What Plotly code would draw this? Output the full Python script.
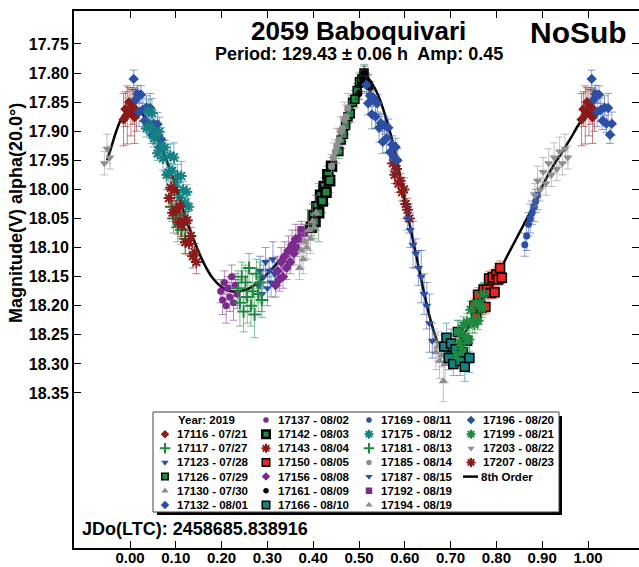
import plotly.graph_objects as go

# ---------------- data (phase, magnitude, error) ----------------
p17116 = [-0.014, -0.010, -0.006, -0.002, 0.002, 0.006, 0.010, 0.014, 0.986, 0.990, 0.994, 0.998, 1.002, 1.006, 1.010, 1.014]
m17116 = [17.880, 17.862, 17.872, 17.850, 17.868, 17.858, 17.876, 17.865, 17.880, 17.862, 17.872, 17.850, 17.868, 17.858, 17.876, 17.865]
e17116 = [0.045, 0.030, 0.050, 0.025, 0.040, 0.030, 0.045, 0.035, 0.045, 0.030, 0.050, 0.025, 0.040, 0.030, 0.045, 0.035]

p17117 = [0.090, 0.095, 0.100, 0.104, 0.108, 0.112, 0.116, 0.120]
m17117 = [18.030, 18.050, 18.040, 18.065, 18.045, 18.070, 18.060, 18.085]
e17117 = [0.020, 0.025, 0.020, 0.025, 0.020, 0.025, 0.020, 0.025]

p17123 = [0.280, 0.284, 0.288, 0.292, 0.296, 0.300, 0.304, 0.308, 0.312, 0.316]
m17123 = [18.165, 18.140, 18.180, 18.150, 18.125, 18.170, 18.140, 18.160, 18.120, 18.145]
e17123 = [0.020, 0.025, 0.030, 0.020, 0.025, 0.030, 0.020, 0.025, 0.030, 0.020]

p17126 = [0.456, 0.461, 0.466, 0.471, 0.476, 0.481, 0.486, 0.491, 0.496, 0.501, 0.506, 0.511]
m17126 = [17.935, 17.915, 17.905, 17.890, 17.875, 17.870, 17.850, 17.845, 17.830, 17.815, 17.810, 17.800]
e17126 = [0.012, 0.015, 0.012, 0.015, 0.012, 0.015, 0.012, 0.015, 0.012, 0.015, 0.012, 0.015]

p17130 = [0.664, 0.668, 0.672, 0.676, 0.680, 0.684, 0.688]
m17130 = [18.260, 18.280, 18.270, 18.295, 18.285, 18.330, 18.300]
e17130 = [0.020, 0.030, 0.025, 0.030, 0.020, 0.035, 0.030]

p17132 = [0.008, 0.012, 0.016, 0.020, 0.024, 0.028, 0.032, 0.036, 0.040, 0.044, 0.048, 0.052, 0.056, 0.060,
          0.064, 0.068, 0.072,
          1.008, 1.012, 1.016, 1.020, 1.024, 1.028, 1.032, 1.036, 1.040, 1.044, 1.048, 1.052]
m17132 = [17.810, 17.846, 17.836, 17.867, 17.837, 17.863, 17.882, 17.859, 17.887, 17.860, 17.906, 17.887, 17.907,
          17.888, 17.928, 17.914, 17.930,
          17.810, 17.846, 17.836, 17.867, 17.837, 17.863, 17.882, 17.859, 17.887, 17.860, 17.906, 17.887]
e17132 = [0.015, 0.020, 0.015, 0.025, 0.015, 0.020, 0.015, 0.020, 0.015, 0.025, 0.015, 0.020, 0.015, 0.020,
          0.015, 0.020, 0.015,
          0.015, 0.020, 0.015, 0.025, 0.015, 0.020, 0.015, 0.020, 0.015, 0.025, 0.015, 0.020]

p17137 = [0.198, 0.202, 0.206, 0.210, 0.214, 0.218, 0.222, 0.226, 0.230, 0.234]
m17137 = [18.175, 18.190, 18.160, 18.200, 18.170, 18.185, 18.150, 18.195, 18.165, 18.180]
e17137 = [0.020, 0.025, 0.020, 0.030, 0.020, 0.025, 0.020, 0.030, 0.020, 0.025]

p17142 = [0.396, 0.400, 0.404, 0.408, 0.412, 0.416, 0.420, 0.424, 0.428, 0.432, 0.436, 0.440]
m17142 = [18.065, 18.045, 18.055, 18.030, 18.040, 18.010, 18.020, 17.995, 18.005, 17.975, 17.985, 17.960]
e17142 = [0.015, 0.020, 0.015, 0.020, 0.050, 0.015, 0.020, 0.015, 0.020, 0.015, 0.020, 0.015]

p17143 = [0.574, 0.578, 0.582, 0.586, 0.590, 0.594, 0.598, 0.602, 0.606, 0.610]
m17143 = [17.955, 17.975, 17.965, 17.990, 17.985, 18.005, 18.000, 18.025, 18.035, 18.050]
e17143 = [0.012, 0.015, 0.012, 0.015, 0.012, 0.015, 0.020, 0.025, 0.020, 0.025]

p17150 = [0.752, 0.756, 0.760, 0.764, 0.768, 0.772, 0.776, 0.780, 0.784, 0.788, 0.792, 0.796, 0.800, 0.804,
          0.808, 0.812]
m17150 = [18.200, 18.220, 18.181, 18.201, 18.203, 18.172, 18.202, 18.172, 18.153, 18.178, 18.151, 18.177, 18.146,
          18.155, 18.135, 18.152]
e17150 = [0.012, 0.010, 0.012, 0.010, 0.012, 0.010, 0.012, 0.010, 0.012, 0.010, 0.012, 0.010, 0.012, 0.010,
          0.012, 0.010]

p17156 = [0.318, 0.322, 0.326, 0.330, 0.334, 0.338, 0.342, 0.346, 0.350, 0.354, 0.358, 0.362]
m17156 = [18.165, 18.140, 18.155, 18.125, 18.150, 18.115, 18.135, 18.105, 18.125, 18.095, 18.110, 18.085]
e17156 = [0.020, 0.025, 0.020, 0.025, 0.020, 0.025, 0.020, 0.025, 0.020, 0.025, 0.020, 0.025]

p17161 = [0.500, 0.504, 0.508, 0.512, 0.516, 0.520, 0.524, 0.528]
m17161 = [17.835, 17.820, 17.810, 17.800, 17.810, 17.815, 17.825, 17.840]
e17161 = [0.010, 0.012, 0.010, 0.012, 0.010, 0.012, 0.010, 0.012]

p17166 = [0.686, 0.691, 0.696, 0.701, 0.706, 0.711, 0.716, 0.721, 0.726, 0.731, 0.736, 0.741]
m17166 = [18.270, 18.255, 18.290, 18.265, 18.300, 18.275, 18.245, 18.295, 18.280, 18.305, 18.260, 18.290]
e17166 = [0.020, 0.025, 0.020, 0.025, 0.020, 0.025, 0.020, 0.025, 0.020, 0.025, 0.020, 0.025]

p17169 = [0.862, 0.866, 0.870, 0.874, 0.878, 0.882, 0.886, 0.890]
m17169 = [18.095, 18.080, 18.060, 18.050, 18.040, 18.030, 18.020, 18.010]
e17169 = [0.020, 0.025, 0.020, 0.025, 0.020, 0.025, 0.020, 0.025]

p17175 = [0.036, 0.040, 0.044, 0.048, 0.052, 0.056, 0.060, 0.064, 0.068, 0.072, 0.076, 0.080, 0.084, 0.088,
          0.092, 0.096, 0.100, 0.104, 0.108, 0.112, 0.116, 0.120, 0.124, 0.128]
m17175 = [17.895, 17.866, 17.893, 17.869, 17.912, 17.902, 17.938, 17.901, 17.926, 17.947, 17.928, 17.975, 17.971,
          17.942, 17.968, 17.945, 17.988, 17.977, 18.014, 17.977, 18.001, 18.023, 18.004, 18.030]
e17175 = [0.015, 0.020, 0.012, 0.025, 0.015, 0.020, 0.012, 0.025, 0.015, 0.020, 0.012, 0.025, 0.015, 0.020,
          0.012, 0.025, 0.015, 0.020, 0.012, 0.025, 0.015, 0.020, 0.012, 0.025]

p17181 = [0.236, 0.240, 0.244, 0.248, 0.252, 0.256, 0.260, 0.264, 0.268, 0.272, 0.276, 0.280, 0.284, 0.288]
m17181 = [18.170, 18.195, 18.150, 18.210, 18.160, 18.185, 18.135, 18.200, 18.175, 18.215, 18.145, 18.180, 18.160,
          18.190]
e17181 = [0.030, 0.040, 0.025, 0.035, 0.030, 0.045, 0.025, 0.035, 0.030, 0.040, 0.025, 0.030, 0.035, 0.030]

p17185 = [0.440, 0.444, 0.448, 0.452, 0.456, 0.460, 0.464, 0.468, 0.472, 0.476]
m17185 = [17.960, 17.945, 17.935, 17.925, 17.915, 17.900, 17.895, 17.880, 17.875, 17.860]
e17185 = [0.020, 0.025, 0.020, 0.030, 0.020, 0.025, 0.020, 0.030, 0.020, 0.025]

p17187 = [0.606, 0.612, 0.618, 0.624, 0.630, 0.636, 0.642, 0.648, 0.654, 0.660]
m17187 = [18.050, 18.070, 18.095, 18.110, 18.135, 18.150, 18.180, 18.200, 18.230, 18.260]
e17187 = [0.020, 0.030, 0.040, 0.025, 0.030, 0.045, 0.035, 0.040, 0.050, 0.030]

p17192 = [0.362, 0.368, 0.374, 0.380]
m17192 = [18.100, 18.085, 18.070, 18.075]
e17192 = [0.015, 0.015, 0.015, 0.015]

p17194 = [0.370, 0.374, 0.378, 0.382, 0.386, 0.390, 0.394, 0.398, 0.402, 0.406]
m17194 = [18.135, 18.105, 18.120, 18.090, 18.100, 18.070, 18.085, 18.055, 18.065, 18.040]
e17194 = [0.020, 0.030, 0.025, 0.030, 0.020, 0.035, 0.025, 0.030, 0.020, 0.030]

p17196 = [0.516, 0.520, 0.524, 0.528, 0.532, 0.536, 0.540, 0.544, 0.548, 0.552, 0.556, 0.560, 0.564, 0.568,
          0.572, 0.576, 0.580, 0.584]
m17196 = [17.820, 17.852, 17.839, 17.871, 17.843, 17.875, 17.852, 17.894, 17.886, 17.918, 17.890, 17.912, 17.894,
          17.936, 17.923, 17.945, 17.927, 17.950]
e17196 = [0.015, 0.020, 0.015, 0.025, 0.015, 0.020, 0.015, 0.025, 0.015, 0.020, 0.015, 0.025, 0.015, 0.020,
          0.015, 0.025, 0.015, 0.020]

p17199 = [0.712, 0.716, 0.720, 0.724, 0.728, 0.732, 0.736, 0.740, 0.744, 0.748, 0.752, 0.756, 0.760, 0.764,
          0.768, 0.772]
m17199 = [18.285, 18.245, 18.264, 18.274, 18.234, 18.253, 18.228, 18.258, 18.207, 18.227, 18.232, 18.196, 18.226,
          18.196, 18.205, 18.180]
e17199 = [0.015, 0.020, 0.015, 0.020, 0.015, 0.020, 0.015, 0.020, 0.015, 0.020, 0.015, 0.020, 0.015, 0.020,
          0.015, 0.020]

p17203 = [0.884, 0.890, 0.896, 0.902, 0.908, 0.914, 0.920, 0.926, 0.932, 0.938, 0.944, 0.950, 0.956,
          -0.056, -0.050, -0.044]
m17203 = [18.010, 17.985, 18.000, 17.970, 17.990, 17.955, 17.975, 17.945, 17.965, 17.935, 17.955, 17.930, 17.945,
          17.955, 17.930, 17.945]
e17203 = [0.020, 0.025, 0.020, 0.025, 0.020, 0.025, 0.020, 0.025, 0.020, 0.025, 0.020, 0.025, 0.020,
          0.020, 0.025, 0.020]

p17207 = [0.085, 0.089, 0.093, 0.097, 0.101, 0.105, 0.109, 0.113, 0.117, 0.121, 0.125, 0.129, 0.133, 0.137,
          0.141, 0.145]
m17207 = [18.015, 17.997, 18.040, 18.002, 18.034, 18.057, 18.029, 18.061, 18.054, 18.091, 18.053, 18.093, 18.080,
          18.115, 18.108, 18.125]
e17207 = [0.015, 0.020, 0.015, 0.020, 0.015, 0.020, 0.015, 0.020, 0.015, 0.020, 0.015, 0.020, 0.015, 0.020,
          0.015, 0.020]

# 8th order Fourier fit
fit_phase = [-0.05, -0.04, -0.03, -0.02, -0.01, 0.00, 0.01, 0.02, 0.04, 0.06, 0.08, 0.10, 0.12, 0.14, 0.16,
             0.18, 0.20, 0.22, 0.24, 0.26, 0.28, 0.30, 0.32, 0.34, 0.36, 0.38, 0.40, 0.42, 0.44, 0.46, 0.48,
             0.50, 0.51, 0.52, 0.54, 0.56, 0.58, 0.60, 0.62, 0.64, 0.66, 0.68, 0.70, 0.72, 0.74, 0.76, 0.78,
             0.80, 0.82, 0.84, 0.86, 0.88, 0.90, 0.92, 0.94, 0.96, 0.98, 1.00]
fit_mag = [17.950, 17.925, 17.900, 17.880, 17.868, 17.862, 17.862, 17.866, 17.882, 17.910, 17.950, 17.995,
           18.045, 18.088, 18.125, 18.152, 18.168, 18.175, 18.175, 18.170, 18.160, 18.145, 18.128, 18.108,
           18.088, 18.068, 18.045, 18.013, 17.965, 17.915, 17.870, 17.830, 17.810, 17.810, 17.835, 17.880,
           17.940, 18.020, 18.095, 18.170, 18.235, 18.275, 18.278, 18.260, 18.235, 18.205, 18.178, 18.155,
           18.120, 18.090, 18.060, 18.030, 17.995, 17.965, 17.940, 17.915, 17.888, 17.865]

x_ticks = [0.0, 0.1, 0.2, 0.3, 0.4, 0.5, 0.6, 0.7, 0.8, 0.9, 1.0]
x_ticklabels = ["0.00", "0.10", "0.20", "0.30", "0.40", "0.50", "0.60", "0.70", "0.80", "0.90", "1.00"]
y_ticks = [17.75, 17.80, 17.85, 17.90, 17.95, 18.00, 18.05, 18.10, 18.15, 18.20, 18.25, 18.30, 18.35]
y_ticklabels = ["17.75", "17.80", "17.85", "17.90", "17.95", "18.00", "18.05", "18.10", "18.15", "18.20",
                "18.25", "18.30", "18.35"]

# ---------------- styles ----------------
DRED, GREEN, BLUE, GRAY = "#8b1a1a", "#1f8a3f", "#2c4ea3", "#8e8e8e"
PURPLE, BLACK, RED, TEAL = "#7b2b8d", "#000000", "#ee2222", "#148282"

def mk(symbol, color, size=8, lc=None, lw=0):
    return dict(symbol=symbol, color=color, size=size,
                line=dict(color=lc if lc else color, width=lw))

sessions = [
    ("17116 - 07/21", p17116, m17116, e17116, DRED, mk("diamond", DRED)),
    ("17117 - 07/27", p17117, m17117, e17117, GREEN, mk("cross-thin", GREEN, 9, GREEN, 2)),
    ("17123 - 07/28", p17123, m17123, e17123, BLUE, mk("triangle-down", BLUE)),
    ("17126 - 07/29", p17126, m17126, e17126, GREEN, mk("square", GREEN, 8, BLACK, 1.5)),
    ("17130 - 07/30", p17130, m17130, e17130, GRAY, mk("triangle-up", GRAY)),
    ("17132 - 08/01", p17132, m17132, e17132, BLUE, mk("diamond", BLUE)),
    ("17137 - 08/02", p17137, m17137, e17137, PURPLE, mk("circle", PURPLE, 7)),
    ("17142 - 08/03", p17142, m17142, e17142, GREEN, mk("square", GREEN, 9, BLACK, 2.5)),
    ("17143 - 08/04", p17143, m17143, e17143, DRED, mk("asterisk", DRED, 9, DRED, 2)),
    ("17150 - 08/05", p17150, m17150, e17150, RED, mk("square", RED, 9, BLACK, 1.5)),
    ("17156 - 08/08", p17156, m17156, e17156, PURPLE, mk("diamond", PURPLE)),
    ("17161 - 08/09", p17161, m17161, e17161, BLACK, mk("circle", BLACK, 7)),
    ("17166 - 08/10", p17166, m17166, e17166, TEAL, mk("square", TEAL, 9, BLACK, 1.5)),
    ("17169 - 08/11", p17169, m17169, e17169, BLUE, mk("circle", BLUE, 7)),
    ("17175 - 08/12", p17175, m17175, e17175, TEAL, mk("asterisk", TEAL, 9, TEAL, 2)),
    ("17181 - 08/13", p17181, m17181, e17181, GREEN, mk("cross-thin", GREEN, 9, GREEN, 2)),
    ("17185 - 08/14", p17185, m17185, e17185, GRAY, mk("circle", GRAY, 7)),
    ("17187 - 08/15", p17187, m17187, e17187, BLUE, mk("triangle-down", BLUE)),
    ("17192 - 08/19", p17192, m17192, e17192, PURPLE, mk("square", PURPLE, 8)),
    ("17194 - 08/19", p17194, m17194, e17194, GRAY, mk("triangle-up", GRAY)),
    ("17196 - 08/20", p17196, m17196, e17196, BLUE, mk("diamond", BLUE)),
    ("17199 - 08/21", p17199, m17199, e17199, GREEN, mk("asterisk", GREEN, 9, GREEN, 2)),
    ("17203 - 08/22", p17203, m17203, e17203, GRAY, mk("triangle-down", GRAY)),
    ("17207 - 08/23", p17207, m17207, e17207, DRED, mk("asterisk", DRED, 9, DRED, 2)),
]

def rgba(hexc, a):
    h = hexc.lstrip("#")
    return "rgba(%d,%d,%d,%.2f)" % (int(h[0:2], 16), int(h[2:4], 16), int(h[4:6], 16), a)

# ---------------- geometry (pixels) ----------------
W, H = 639, 567
L, R, T, B = 74, 639, 11, 548

def px(x):
    return (x - L) / (R - L)

def py(y):
    return (B - y) / (B - T)

FONT = "Liberation Sans, Arial, sans-serif"

fig = go.Figure()

# fit curve (below data)
fig.add_trace(go.Scatter(x=fit_phase, y=fit_mag, mode="lines", line=dict(color="black", width=2.5, shape="spline"),
                         showlegend=False, hoverinfo="skip"))

for name, ph, mg, er, col, marker in sessions:
    fig.add_trace(go.Scatter(
        x=ph, y=mg, mode="markers", name=name, showlegend=False, marker=marker,
        error_y=dict(type="data", array=er, visible=True, color=rgba(col, 0.55), thickness=1, width=4),
    ))

# ---------------- custom legend (pixel overlay axes) ----------------
COL_X = [165, 266, 369, 471]
ROW_Y0, ROW_DY = 420, 14.15
LEG_FONT = dict(family=FONT, size=11.5, color="black")
annotations = []
annotations.append(dict(x=COL_X[0] + 11, y=ROW_Y0, xref="x2", yref="y2", text="<b>Year: 2019</b>",
                        showarrow=False, xanchor="left", yanchor="middle", font=LEG_FONT))
for k, (name, ph, mg, er, col, marker) in enumerate(sessions):
    slot = k + 1
    c, r = slot // 7, slot % 7
    xx, yy = COL_X[c], ROW_Y0 + r * ROW_DY
    lm = dict(marker)
    lm["size"] = marker["size"] - 1.5
    fig.add_trace(go.Scatter(x=[xx], y=[yy], xaxis="x2", yaxis="y2", mode="markers",
                             marker=lm, showlegend=False, hoverinfo="skip"))
    annotations.append(dict(x=xx + 10, y=yy, xref="x2", yref="y2", text="<b>%s</b>" % name,
                            showarrow=False, xanchor="left", yanchor="middle", font=LEG_FONT))
# 8th order entry
slot = len(sessions) + 1
c, r = slot // 7, slot % 7
yy = ROW_Y0 + r * ROW_DY
fig.add_trace(go.Scatter(x=[COL_X[c] - 8, COL_X[c] + 7], y=[yy, yy], xaxis="x2", yaxis="y2", mode="lines",
                         line=dict(color="black", width=2.5), showlegend=False, hoverinfo="skip"))
annotations.append(dict(x=COL_X[c] + 8, y=yy, xref="x2", yref="y2", text="<b>8th Order</b>",
                        showarrow=False, xanchor="left", yanchor="middle", font=LEG_FONT))

shapes = [
    dict(type="rect", xref="x2", yref="y2", x0=157, x1=562, y0=416, y1=515,
         fillcolor="black", line=dict(width=0), layer="below"),
    dict(type="rect", xref="x2", yref="y2", x0=153, x1=559, y0=412, y1=512,
         fillcolor="white", line=dict(color="#444444", width=1), layer="below"),
]

# titles and labels
annotations += [
    dict(x=px(358), y=py(31), xref="paper", yref="paper", text="<b>2059 Baboquivari</b>", showarrow=False,
         xanchor="center", yanchor="middle", font=dict(family=FONT, size=26, color="black")),
    dict(x=px(578), y=py(32), xref="paper", yref="paper", text="<b>NoSub</b>", showarrow=False,
         xanchor="center", yanchor="middle", font=dict(family=FONT, size=30, color="black")),
    dict(x=px(359), y=py(54), xref="paper", yref="paper", text="<b>Period: 129.43 ± 0.06 h  Amp: 0.45</b>",
         showarrow=False, xanchor="center", yanchor="middle", font=dict(family=FONT, size=18, color="black")),
    dict(x=px(80), y=py(529), xref="paper", yref="paper", text="<b>JDo(LTC): 2458685.838916</b>", showarrow=False,
         xanchor="left", yanchor="middle", font=dict(family=FONT, size=18, color="black")),
    dict(x=px(16), y=py(213), xref="paper", yref="paper", text="<b>Magnitude(V) alpha(20.0°)</b>", showarrow=False,
         xanchor="center", yanchor="middle", textangle=-90, font=dict(family=FONT, size=18, color="black")),
]

axis_common = dict(showgrid=False, zeroline=False, showline=True, linecolor="black", linewidth=2,
                   mirror="ticks", ticks="inside", ticklen=7, tickwidth=1, tickcolor="black")

fig.update_layout(
    width=W, height=H,
    margin=dict(l=L, r=W - R, t=T, b=H - B, autoexpand=False),
    paper_bgcolor="white", plot_bgcolor="white",
    showlegend=False,
    xaxis=dict(range=[-56 / 458, 1 + 51 / 458], tickvals=x_ticks, ticktext=x_ticklabels,
               ticklabelstandoff=-5,
               tickfont=dict(family=FONT, size=15, color="black", weight="bold"), **axis_common),
    yaxis=dict(range=[18.6165, 17.6933], tickvals=y_ticks, ticktext=y_ticklabels,
               tickfont=dict(family=FONT, size=16, color="black", weight="bold"), **axis_common),
    xaxis2=dict(overlaying="x", range=[L, R], visible=False, fixedrange=True),
    yaxis2=dict(overlaying="y", range=[B, T], visible=False, fixedrange=True),
    shapes=shapes,
    annotations=annotations,
)

fig.write_html("out.html")
